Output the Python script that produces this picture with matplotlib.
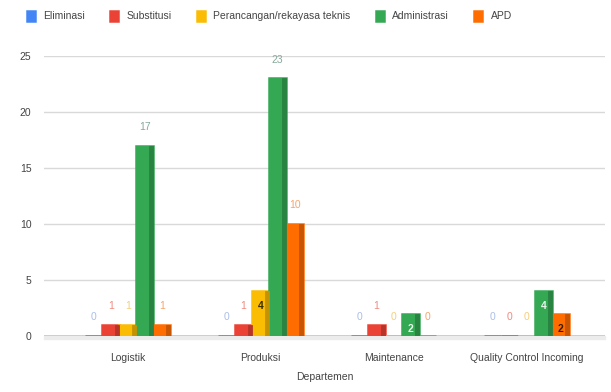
import numpy as np
import matplotlib
matplotlib.use("Agg")
import matplotlib.pyplot as plt
from matplotlib.colors import to_rgb
from matplotlib.patches import Rectangle

departemen = ["Logistik", "Produksi", "Maintenance", "Quality Control Incoming"]
seri = ["Eliminasi", "Substitusi", "Perancangan/rekayasa teknis", "Administrasi", "APD"]
eliminasi = [0, 0, 0, 0]
substitusi = [1, 1, 1, 0]
rekayasa = [1, 4, 0, 0]
administrasi = [17, 23, 2, 4]
apd = [1, 10, 0, 2]

warna = ["#4285F4", "#EA4335", "#FBBC04", "#34A853", "#FF6D01"]
warna_label = ["#a9bfe8", "#ef8a80", "#f5cf7a", "#86a99b", "#f6a46c"]
warna_dalam = ["#ffffff", "#ffffff", "#3a2e00", "#e8f5ea", "#3a1a00"]

plt.rcParams["font.family"] = ["Liberation Sans", "DejaVu Sans"]

fig = plt.figure(figsize=(6.11, 3.92), dpi=100)
ax = fig.add_axes([0.072, 0.143, 0.918, 0.714])

x = np.arange(len(departemen))
lebar = 0.128
data = [eliminasi, substitusi, rekayasa, administrasi, apd]

for i, (nama, nilai) in enumerate(zip(seri, data)):
    pos = x + (i - 2) * lebar
    ax.bar(pos, nilai, lebar, color=warna[i], edgecolor=warna[i],
           linewidth=1.8, label=nama, zorder=3)
    # sisi gelap supaya terlihat seperti kolom 3D
    gelap = tuple(c * 0.78 for c in to_rgb(warna[i]))
    ax.bar(pos + lebar * 0.38, nilai, lebar * 0.24, color=gelap,
           edgecolor=gelap, linewidth=0.6, zorder=4)
    for px, v in zip(pos, nilai):
        if 2 <= v <= 4:
            ax.annotate(str(v), (px, v), xytext=(0, -11), textcoords="offset points",
                        ha="center", va="center", fontsize=7.5, fontweight="bold",
                        color=warna_dalam[i], zorder=6)
        else:
            ax.annotate(str(v), (px, v), xytext=(0, 13.5), textcoords="offset points",
                        ha="center", va="center", fontsize=7.5,
                        color=warna_label[i], zorder=6)

ax.set_xlim(-0.63, 3.59)
ax.set_ylim(0, 25)
ax.set_yticks([0, 5, 10, 15, 20, 25])
ax.set_xticks(x)
ax.set_xticklabels(departemen)
ax.tick_params(axis="both", length=0, labelsize=7.5, colors="#444444")
ax.tick_params(axis="y", pad=9)
ax.tick_params(axis="x", pad=12)
ax.grid(axis="y", color="#d9d9d9", linewidth=1.0, zorder=0)
for s in ax.spines.values():
    s.set_visible(False)
ax.axhline(0, color="#333333", linewidth=1.0, zorder=2)
# lantai abu-abu di bawah garis dasar
ax.add_patch(Rectangle((0, -0.012), 1, 0.012, transform=ax.transAxes,
                       color="#ececec", clip_on=False, zorder=1))

ax.set_xlabel("Departemen", fontsize=7.5, color="#444444", labelpad=7)

ax.legend(loc="center left", bbox_to_anchor=(-0.031, 1.143), ncol=5, frameon=False,
          fontsize=7.5, handlelength=0.8, handleheight=1.1, handletextpad=0.8,
          columnspacing=2.4, labelcolor="#444444", borderaxespad=0, borderpad=0)

fig.savefig("out.png", dpi=100)
